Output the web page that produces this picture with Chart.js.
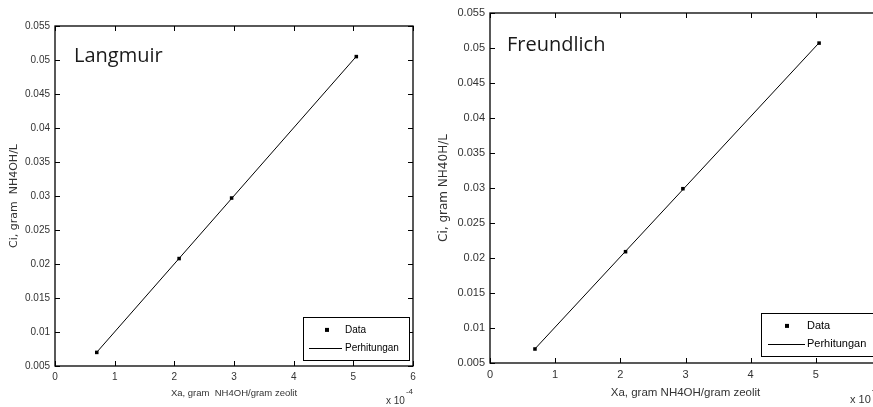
<!DOCTYPE html>
<html><head><meta charset="utf-8">
<script src="https://cdn.jsdelivr.net/npm/chart.js@4"></script>
<style>
html,body{margin:0;padding:0;background:#fff;overflow:hidden;width:873px;height:407px}
#w1{position:absolute;left:0;top:0;width:440px;height:407px}
#w2{position:absolute;left:432px;top:0;width:460px;height:407px}
</style></head><body>
<div id="w1"><canvas id="c1"></canvas></div>
<div id="w2"><canvas id="c2"></canvas></div>
<script>
// Langmuir panel
const langX = [0.70e-4, 2.08e-4, 2.96e-4, 5.05e-4];
const langY = [0.0070, 0.0208, 0.0297, 0.0505];
const langCalc = [0.00702, 0.02082, 0.02963, 0.05053];
// Freundlich panel
const freX = [0.69e-4, 2.08e-4, 2.96e-4, 5.05e-4];
const freY = [0.0070, 0.0209, 0.0299, 0.0507];
const freCalc = [0.00702, 0.02096, 0.02978, 0.05074];
// labels
const seriesLabels = ['Data', 'Perhitungan'];
const panelTitles = ['Langmuir', 'Freundlich'];
const xTitle = ['Xa, gram  NH4OH/gram zeolit', 'Xa, gram NH4OH/gram zeolit'];
const yTitle = ['Ci, gram  NH4OH/L', 'Ci, gram NH40H/L'];
const xExpBase = 'x 10';
const xExpPow = '-4';
const xMin = 0, xMax = 6e-4, xStep = 1e-4;
const yMin = 0.005, yMax = 0.055, yStep = 0.005;

const frame = {
  id: 'frame',
  afterDatasetsDraw(chart, args, o) {
    const {ctx, chartArea: a, scales: {x, y}} = chart;
    ctx.save();
    ctx.strokeStyle = '#000';
    ctx.lineWidth = 1;
    ctx.beginPath();
    x.ticks.forEach(t => {
      const px = Math.round(x.getPixelForValue(t.value)) + 0.5;
      ctx.moveTo(px, a.bottom); ctx.lineTo(px, a.bottom - o.tl);
      ctx.moveTo(px, a.top); ctx.lineTo(px, a.top + o.tl);
    });
    y.ticks.forEach(t => {
      const py = Math.round(y.getPixelForValue(t.value)) + 0.5;
      ctx.moveTo(a.left, py); ctx.lineTo(a.left + o.tl, py);
      ctx.moveTo(a.right, py); ctx.lineTo(a.right - o.tl, py);
    });
    ctx.stroke();
    ctx.lineWidth = 1.3;
    ctx.strokeRect(a.left, a.top, a.right - a.left, a.bottom - a.top);
    // panel title
    ctx.fillStyle = '#1a1a1a';
    ctx.font = '20px "Open Sans"';
    ctx.textBaseline = 'alphabetic';
    ctx.textAlign = 'left';
    ctx.fillText(o.title, a.left + o.tdx, a.top + o.tdy);
    // legend
    const L = o.leg;
    const lx = a.right - L.dr - L.w, ly = a.bottom - L.db - L.h;
    ctx.fillStyle = '#fff';
    ctx.fillRect(lx, ly, L.w, L.h);
    ctx.lineWidth = 1;
    ctx.strokeStyle = '#000';
    ctx.strokeRect(lx + 0.5, ly + 0.5, L.w, L.h);
    ctx.fillStyle = '#000';
    const r1 = ly + L.h * 0.30, r2 = ly + L.h * 0.73;
    ctx.fillRect(lx + L.mx - 2, r1 - 2, 4, 4);
    ctx.beginPath();
    ctx.moveTo(lx + L.l0, Math.round(r2) + 0.5); ctx.lineTo(lx + L.l1, Math.round(r2) + 0.5);
    ctx.stroke();
    ctx.font = L.fs + 'px "Liberation Sans"';
    ctx.textBaseline = 'middle';
    const ds = chart.data.datasets;
    ctx.fillText(ds[0].label, lx + L.tx, r1);
    ctx.fillText(ds[1].label, lx + L.tx, r2);
    // exponent
    ctx.fillStyle = '#333';
    ctx.font = L.fs + 'px "Liberation Sans"';
    ctx.textBaseline = 'alphabetic';
    const ex = a.right - o.exDx;
    ctx.fillText(xExpBase, ex, o.exY);
    const w = ctx.measureText(xExpBase).width;
    ctx.font = (L.fs - 2) + 'px "Liberation Sans"';
    ctx.fillText(xExpPow, ex + w + 1, o.exY - 10);
    ctx.restore();
  }
};

function makeChart(id, xs, ys, calc, i, g) {
  const tickFmtY = v => String(parseFloat(v.toFixed(4)));
  const tickFmtX = v => String(Math.round(v / xStep));
  return new Chart(document.getElementById(id), {
    type: 'scatter',
    data: {
      datasets: [
        {label: seriesLabels[0], data: xs.map((v, k) => ({x: v, y: ys[k]})),
         pointStyle: 'rect', pointRadius: 2.5, backgroundColor: '#000', borderColor: '#000', borderWidth: 0, order: 0},
        {label: seriesLabels[1], data: xs.map((v, k) => ({x: v, y: calc[k]})),
         showLine: true, pointRadius: 0, borderColor: '#000', borderWidth: 1, order: 1}
      ]
    },
    options: {
      responsive: true, maintainAspectRatio: false, animation: false,
      layout: {padding: {left: 0, top: g.top, right: g.right, bottom: 0}},
      plugins: {
        legend: {display: false}, tooltip: {enabled: false},
        frame: g.frame
      },
      scales: {
        x: {
          type: 'linear', min: xMin, max: xMax,
          grid: {display: false, drawTicks: false}, border: {display: false},
          ticks: {stepSize: xStep, callback: tickFmtX, padding: 5, maxRotation: 0, autoSkip: false,
                  color: '#333', font: {family: 'Liberation Sans', size: g.fs}},
          title: {display: true, text: xTitle[i], color: '#333', font: {family: 'Liberation Sans', size: g.xfs},
                  padding: {top: 0, bottom: g.xtb}},
          afterFit: s => { s.height = g.xh; }
        },
        y: {
          type: 'linear', min: yMin, max: yMax,
          grid: {display: false, drawTicks: false}, border: {display: false},
          ticks: {stepSize: yStep, callback: tickFmtY, padding: 5, autoSkip: false,
                  color: '#333', font: {family: 'Liberation Sans', size: g.fs}},
          title: {display: true, text: yTitle[i], color: '#333', font: {family: 'DejaVu Sans', size: g.yfs},
                  padding: {top: g.ytp, bottom: 0}},
          afterFit: s => { s.width = g.yw; }
        }
      }
    },
    plugins: [frame]
  });
}

makeChart('c1', langX, langY, langCalc, 0, {
  top: 26, right: 27, xh: 41, yw: 55, fs: 10, xfs: 9.5, yfs: 11, xtb: 8, ytp: 8,
  frame: {tl: 5, title: panelTitles[0], tdx: 19, tdy: 36, exDx: 27, exY: 404,
          leg: {w: 106, h: 43, dr: 4, db: 6, mx: 24, l0: 6, l1: 39, tx: 42, fs: 10}}
});
makeChart('c2', freX, freY, freCalc, 1, {
  top: 13, right: 11, xh: 44, yw: 58, fs: 11, xfs: 11.5, yfs: 12, xtb: 7, ytp: 5,
  frame: {tl: 5, title: panelTitles[1], tdx: 17, tdy: 38, exDx: 31, exY: 403,
          leg: {w: 116, h: 43, dr: 4, db: 7, mx: 26, l0: 7, l1: 44, tx: 46, fs: 11}}
});
</script>
</body></html>
